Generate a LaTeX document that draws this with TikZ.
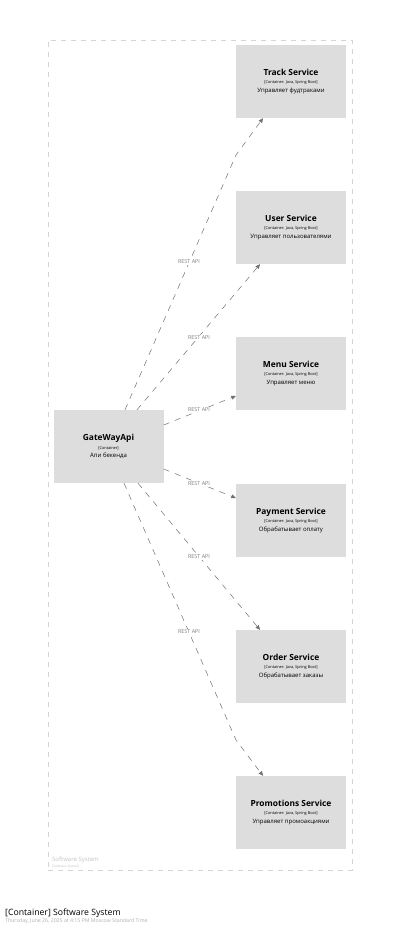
\documentclass[tikz,border=0pt]{standalone}
\usepackage{fontspec}
\setmainfont{Open Sans}
\usetikzlibrary{arrows.meta,calc}
\definecolor{boxfill}{HTML}{DDDDDD}
\definecolor{edgecol}{HTML}{707070}
\definecolor{bordercol}{HTML}{D5D5D5}
\tikzset{
  svc/.style={fill=boxfill, minimum width=110pt, minimum height=73pt, inner sep=0pt, align=center, font=\fontsize{6}{8.2}\selectfont},
  rel/.style={draw=edgecol, line width=0.5pt, dash pattern=on 6pt off 6pt, -{Triangle[length=4.5pt,width=4pt]}},
  lbl/.style={font=\fontsize{5.4}{6}\selectfont, text=edgecol!90, fill=white, inner sep=1pt}
}
\newcommand{\svctext}[3]{{\fontsize{8.4}{9}\selectfont\bfseries #1}\\{\fontsize{3.9}{4}\selectfont #2}\\{\fontsize{6}{7}\selectfont #3}}
\begin{document}
\begin{tikzpicture}[x=1pt,y=-1pt]
\useasboundingbox (0,0) rectangle (400,929);
\fill[white] (0,0) rectangle (400,929);
% boundary
\node[draw=bordercol, line width=0.6pt, dash pattern=on 5pt off 5pt, minimum width=304pt, minimum height=830pt, inner sep=0pt] (sys) at (200,455) {};
\node[anchor=north west, align=left, inner sep=0pt, text=bordercol!80!gray, font=\fontsize{6}{6.5}\selectfont] (syslbl) at (52,856.5) {Software System\\{\fontsize{3.2}{4}\selectfont [Software System]}};

\node[svc] (track) at (291,81.5) {\svctext{Track Service}{[Container: Java, Spring Boot]}{Управляет фудтраками}};
\node[svc] (user) at (291,227.5) {\svctext{User Service}{[Container: Java, Spring Boot]}{Управляет пользователями}};
\node[svc] (menu) at (291,373.5) {\svctext{Menu Service}{[Container: Java, Spring Boot]}{Управляет меню}};
\node[svc] (pay) at (291,520.5) {\svctext{Payment Service}{[Container: Java, Spring Boot]}{Обрабатывает оплату}};
\node[svc] (order) at (291,666.5) {\svctext{Order Service}{[Container: Java, Spring Boot]}{Обрабатывает заказы}};
\node[svc] (promo) at (291,812.5) {\svctext{Promotions Service}{[Container: Java, Spring Boot]}{Управляет промоакциями}};
\node[svc] (gw) at (108.5,446.5) {\svctext{GateWayApi}{[Container]}{Апи бекенда}};

\coordinate (b1) at (236,155);
\coordinate (b6) at (236,740);

\draw[rel] ([xshift=16.5pt]gw.north) -- (b1) -- ([xshift=-28pt]track.south);
\draw[rel] ([xshift=28.5pt]gw.north) -- ([xshift=-31pt]user.south);
\draw[rel] ([yshift=21.5pt]gw.east) -- ([yshift=-22.5pt]menu.west);
\draw[rel] ([yshift=-22.5pt]gw.east) -- ([yshift=22.5pt]pay.west);
\draw[rel] ([xshift=29.5pt]gw.south) -- ([xshift=-31pt]order.north);
\draw[rel] ([xshift=15.5pt]gw.south) -- (b6) -- ([xshift=-28pt]promo.north);

\node[lbl] (l1) at (189,262) {REST API};
\node[lbl] (l2) at (199,338) {REST API};
\node[lbl] (l3) at (199,410) {REST API};
\node[lbl] (l4) at (199,484) {REST API};
\node[lbl] (l5) at (199,557) {REST API};
\node[lbl] (l6) at (189,632) {REST API};

\node[anchor=west, inner sep=0pt] (title) at (5,913) {\fontsize{8.7}{9}\selectfont [Container] Software System};
\node[anchor=west, inner sep=0pt, text=gray!60] (date) at (5,921.5) {\fontsize{5.2}{6}\selectfont Thursday, June 26, 2025 at 4:15 PM Moscow Standard Time};
\end{tikzpicture}
\end{document}
